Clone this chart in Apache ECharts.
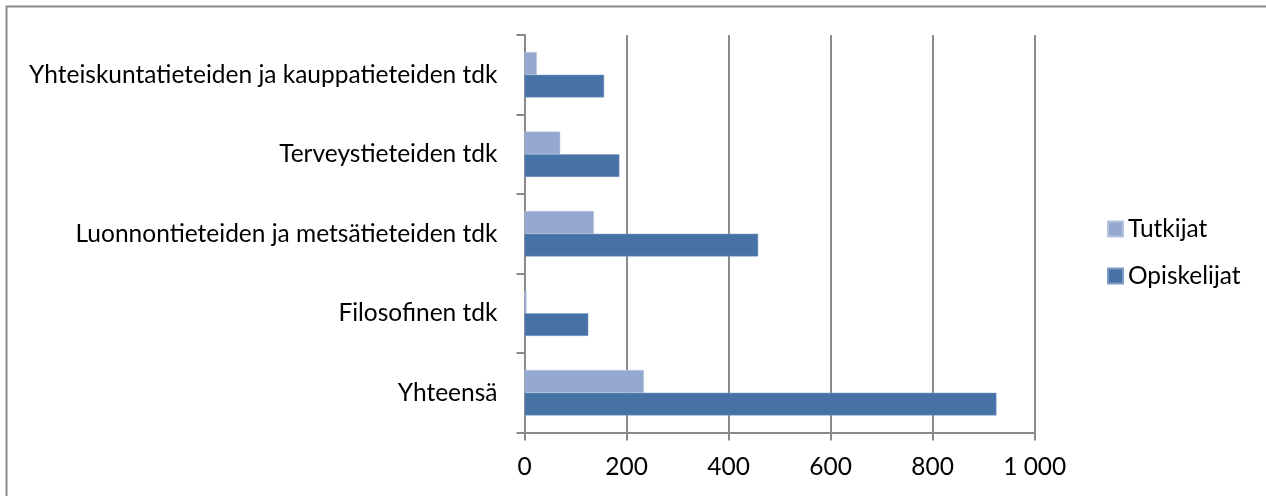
<!DOCTYPE html>
<html>
<head>
<meta charset="utf-8">
<script src="https://cdn.jsdelivr.net/npm/echarts@6/dist/echarts.min.js"></script>
<style>
  html, body { margin: 0; padding: 0; background: #fff; }
  #chart { width: 1266px; height: 496px; }
</style>
</head>
<body>
<div id="chart"></div>
<script>
const categories = ['Yhteensä', 'Filosofinen tdk', 'Luonnontieteiden ja metsätieteiden tdk', 'Terveystieteiden tdk', 'Yhteiskuntatieteiden ja kauppatieteiden tdk'];
const tutkijat = [234, 4, 136, 70, 24];
const opiskelijat = [925, 125, 458, 186, 156];
const xTicks = [0, 200, 400, 600, 800, 1000];

const FONT = 'Lato';
const chart = echarts.init(document.getElementById('chart'));
chart.setOption({
  animation: false,
  backgroundColor: '#ffffff',
  textStyle: { fontFamily: FONT },
  graphic: [
    { type: 'line', shape: { x1: 6, y1: 6.5, x2: 1266, y2: 6.5 }, style: { stroke: '#8a8a8a', lineWidth: 2 } },
    { type: 'line', shape: { x1: 6.5, y1: 6, x2: 6.5, y2: 496 }, style: { stroke: '#8a8a8a', lineWidth: 2 } }
  ],
  legend: {
    orient: 'vertical',
    left: 1107,
    top: 216,
    padding: 0,
    itemWidth: 15,
    itemHeight: 15,
    itemGap: 21,
    icon: 'rect',
    textStyle: { fontFamily: FONT, fontSize: 24.5, color: '#000', lineHeight: 26 },
    data: ['Tutkijat', 'Opiskelijat']
  },
  grid: { left: 524.5, right: 231.3, top: 35, bottom: 63.5, containLabel: false },
  xAxis: {
    type: 'value',
    min: xTicks[0],
    max: xTicks[xTicks.length - 1],
    interval: 200,
    axisLine: { show: true, lineStyle: { color: '#8a8a8a', width: 2 } },
    axisTick: { show: true, length: 8, lineStyle: { color: '#8a8a8a', width: 2 } },
    splitLine: { show: true, lineStyle: { color: '#8a8a8a', width: 2 } },
    axisLabel: {
      margin: 22,
      fontSize: 24.5,
      color: '#000',
      fontFamily: FONT,
      formatter: v => String(v).replace(/\B(?=(\d{3})+(?!\d))/g, ' ')
    }
  },
  yAxis: {
    type: 'category',
    data: categories,
    axisLine: { show: true, lineStyle: { color: '#8a8a8a', width: 2 } },
    axisTick: { show: true, length: 8, lineStyle: { color: '#8a8a8a', width: 2 } },
    splitLine: { show: false },
    axisLabel: { margin: 27, fontSize: 24.5, color: '#000', fontFamily: FONT }
  },
  series: [
    {
      name: 'Tutkijat',
      type: 'bar',
      data: tutkijat,
      barGap: '0%',
      barCategoryGap: '43%',
      itemStyle: { color: '#95a9d0', borderColor: '#b4c4e0', borderWidth: 0.5 }
    },
    {
      name: 'Opiskelijat',
      type: 'bar',
      data: opiskelijat,
      barGap: '0%',
      barCategoryGap: '43%',
      itemStyle: { color: '#4672a6', borderColor: '#7a9cc6', borderWidth: 0.5 }
    }
  ]
});
</script>
</body>
</html>
